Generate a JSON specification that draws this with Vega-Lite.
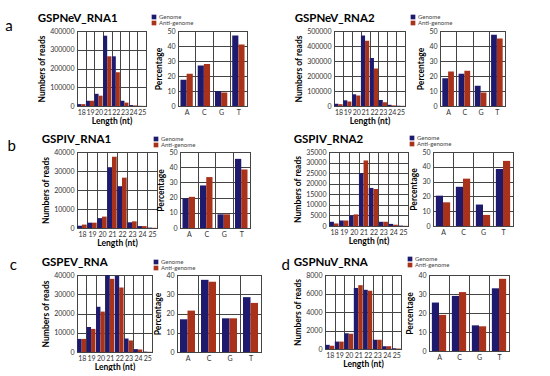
{
  "$schema": "https://vega.github.io/schema/vega-lite/v6.json",
  "padding": {"left": 5, "top": 12, "right": 0, "bottom": 0},
  "background": "white",
  "datasets": {
    "a1": [
      {"len": "18", "type": "Genome", "reads": 10000}, {"len": "18", "type": "Anti-genome", "reads": 10000},
      {"len": "19", "type": "Genome", "reads": 28000}, {"len": "19", "type": "Anti-genome", "reads": 28000},
      {"len": "20", "type": "Genome", "reads": 65000}, {"len": "20", "type": "Anti-genome", "reads": 55000},
      {"len": "21", "type": "Genome", "reads": 375000}, {"len": "21", "type": "Anti-genome", "reads": 265000},
      {"len": "22", "type": "Genome", "reads": 265000}, {"len": "22", "type": "Anti-genome", "reads": 180000},
      {"len": "23", "type": "Genome", "reads": 28000}, {"len": "23", "type": "Anti-genome", "reads": 18000},
      {"len": "24", "type": "Genome", "reads": 5000}, {"len": "24", "type": "Anti-genome", "reads": 3000},
      {"len": "25", "type": "Genome", "reads": 1000}, {"len": "25", "type": "Anti-genome", "reads": 500}
    ],
    "a1p": [
      {"base": "A", "type": "Genome", "pct": 17.5}, {"base": "A", "type": "Anti-genome", "pct": 21.5},
      {"base": "C", "type": "Genome", "pct": 27}, {"base": "C", "type": "Anti-genome", "pct": 28},
      {"base": "G", "type": "Genome", "pct": 10}, {"base": "G", "type": "Anti-genome", "pct": 9},
      {"base": "T", "type": "Genome", "pct": 47}, {"base": "T", "type": "Anti-genome", "pct": 41}
    ],
    "a2": [
      {"len": "18", "type": "Genome", "reads": 15000}, {"len": "18", "type": "Anti-genome", "reads": 12000},
      {"len": "19", "type": "Genome", "reads": 38000}, {"len": "19", "type": "Anti-genome", "reads": 30000},
      {"len": "20", "type": "Genome", "reads": 78000}, {"len": "20", "type": "Anti-genome", "reads": 70000},
      {"len": "21", "type": "Genome", "reads": 470000}, {"len": "21", "type": "Anti-genome", "reads": 435000},
      {"len": "22", "type": "Genome", "reads": 320000}, {"len": "22", "type": "Anti-genome", "reads": 250000},
      {"len": "23", "type": "Genome", "reads": 40000}, {"len": "23", "type": "Anti-genome", "reads": 25000},
      {"len": "24", "type": "Genome", "reads": 8000}, {"len": "24", "type": "Anti-genome", "reads": 4000},
      {"len": "25", "type": "Genome", "reads": 2000}, {"len": "25", "type": "Anti-genome", "reads": 1000}
    ],
    "a2p": [
      {"base": "A", "type": "Genome", "pct": 18.5}, {"base": "A", "type": "Anti-genome", "pct": 23},
      {"base": "C", "type": "Genome", "pct": 21.5}, {"base": "C", "type": "Anti-genome", "pct": 23.5},
      {"base": "G", "type": "Genome", "pct": 13.5}, {"base": "G", "type": "Anti-genome", "pct": 9},
      {"base": "T", "type": "Genome", "pct": 47.5}, {"base": "T", "type": "Anti-genome", "pct": 45}
    ],
    "b1": [
      {"len": "18", "type": "Genome", "reads": 1200}, {"len": "18", "type": "Anti-genome", "reads": 1800},
      {"len": "19", "type": "Genome", "reads": 2800}, {"len": "19", "type": "Anti-genome", "reads": 2800},
      {"len": "20", "type": "Genome", "reads": 5200}, {"len": "20", "type": "Anti-genome", "reads": 6000},
      {"len": "21", "type": "Genome", "reads": 32000}, {"len": "21", "type": "Anti-genome", "reads": 37500},
      {"len": "22", "type": "Genome", "reads": 22000}, {"len": "22", "type": "Anti-genome", "reads": 26500},
      {"len": "23", "type": "Genome", "reads": 3000}, {"len": "23", "type": "Anti-genome", "reads": 3500},
      {"len": "24", "type": "Genome", "reads": 1000}, {"len": "24", "type": "Anti-genome", "reads": 1000},
      {"len": "25", "type": "Genome", "reads": 200}, {"len": "25", "type": "Anti-genome", "reads": 100}
    ],
    "b1p": [
      {"base": "A", "type": "Genome", "pct": 19.5}, {"base": "A", "type": "Anti-genome", "pct": 20.5},
      {"base": "C", "type": "Genome", "pct": 28}, {"base": "C", "type": "Anti-genome", "pct": 33.5},
      {"base": "G", "type": "Genome", "pct": 9}, {"base": "G", "type": "Anti-genome", "pct": 9},
      {"base": "T", "type": "Genome", "pct": 45.5}, {"base": "T", "type": "Anti-genome", "pct": 38.5}
    ],
    "b2": [
      {"len": "18", "type": "Genome", "reads": 2000}, {"len": "18", "type": "Anti-genome", "reads": 1200},
      {"len": "19", "type": "Genome", "reads": 2600}, {"len": "19", "type": "Anti-genome", "reads": 2600},
      {"len": "20", "type": "Genome", "reads": 5000}, {"len": "20", "type": "Anti-genome", "reads": 5500},
      {"len": "21", "type": "Genome", "reads": 25000}, {"len": "21", "type": "Anti-genome", "reads": 31000},
      {"len": "22", "type": "Genome", "reads": 18000}, {"len": "22", "type": "Anti-genome", "reads": 17500},
      {"len": "23", "type": "Genome", "reads": 2000}, {"len": "23", "type": "Anti-genome", "reads": 2000},
      {"len": "24", "type": "Genome", "reads": 1000}, {"len": "24", "type": "Anti-genome", "reads": 600},
      {"len": "25", "type": "Genome", "reads": 200}, {"len": "25", "type": "Anti-genome", "reads": 100}
    ],
    "b2p": [
      {"base": "A", "type": "Genome", "pct": 20.5}, {"base": "A", "type": "Anti-genome", "pct": 16},
      {"base": "C", "type": "Genome", "pct": 26.5}, {"base": "C", "type": "Anti-genome", "pct": 32},
      {"base": "G", "type": "Genome", "pct": 14.5}, {"base": "G", "type": "Anti-genome", "pct": 7.5},
      {"base": "T", "type": "Genome", "pct": 38.5}, {"base": "T", "type": "Anti-genome", "pct": 44}
    ],
    "c": [
      {"len": "18", "type": "Genome", "reads": 6800}, {"len": "18", "type": "Anti-genome", "reads": 6800},
      {"len": "19", "type": "Genome", "reads": 13000}, {"len": "19", "type": "Anti-genome", "reads": 12000},
      {"len": "20", "type": "Genome", "reads": 23500}, {"len": "20", "type": "Anti-genome", "reads": 21000},
      {"len": "21", "type": "Genome", "reads": 40000}, {"len": "21", "type": "Anti-genome", "reads": 38000},
      {"len": "22", "type": "Genome", "reads": 39500}, {"len": "22", "type": "Anti-genome", "reads": 33500},
      {"len": "23", "type": "Genome", "reads": 7000}, {"len": "23", "type": "Anti-genome", "reads": 6000},
      {"len": "24", "type": "Genome", "reads": 1500}, {"len": "24", "type": "Anti-genome", "reads": 1300},
      {"len": "25", "type": "Genome", "reads": 200}, {"len": "25", "type": "Anti-genome", "reads": 100}
    ],
    "cp": [
      {"base": "A", "type": "Genome", "pct": 17}, {"base": "A", "type": "Anti-genome", "pct": 21.5},
      {"base": "C", "type": "Genome", "pct": 37.5}, {"base": "C", "type": "Anti-genome", "pct": 36.5},
      {"base": "G", "type": "Genome", "pct": 17.5}, {"base": "G", "type": "Anti-genome", "pct": 17.5},
      {"base": "T", "type": "Genome", "pct": 28.5}, {"base": "T", "type": "Anti-genome", "pct": 25.5}
    ],
    "d": [
      {"len": "18", "type": "Genome", "reads": 450}, {"len": "18", "type": "Anti-genome", "reads": 350},
      {"len": "19", "type": "Genome", "reads": 800}, {"len": "19", "type": "Anti-genome", "reads": 800},
      {"len": "20", "type": "Genome", "reads": 1700}, {"len": "20", "type": "Anti-genome", "reads": 1650},
      {"len": "21", "type": "Genome", "reads": 6600}, {"len": "21", "type": "Anti-genome", "reads": 6900},
      {"len": "22", "type": "Genome", "reads": 6400}, {"len": "22", "type": "Anti-genome", "reads": 6300},
      {"len": "23", "type": "Genome", "reads": 1000}, {"len": "23", "type": "Anti-genome", "reads": 1000},
      {"len": "24", "type": "Genome", "reads": 300}, {"len": "24", "type": "Anti-genome", "reads": 300},
      {"len": "25", "type": "Genome", "reads": 80}, {"len": "25", "type": "Anti-genome", "reads": 50}
    ],
    "dp": [
      {"base": "A", "type": "Genome", "pct": 25.5}, {"base": "A", "type": "Anti-genome", "pct": 19},
      {"base": "C", "type": "Genome", "pct": 29}, {"base": "C", "type": "Anti-genome", "pct": 31},
      {"base": "G", "type": "Genome", "pct": 13.5}, {"base": "G", "type": "Anti-genome", "pct": 13},
      {"base": "T", "type": "Genome", "pct": 33}, {"base": "T", "type": "Anti-genome", "pct": 38}
    ]
  },
  "spacing": 8,
  "resolve": {"scale": {"xOffset": "independent"}, "legend": {"color": "independent"}},
  "vconcat": [
    {
      "spacing": 46,
      "resolve": {"scale": {"xOffset": "independent"}, "legend": {"color": "independent"}},
      "hconcat": [
        {
          "bounds": "flush", "spacing": 32,
          "title": {"text": "a", "orient": "left", "anchor": "end", "angle": 0, "fontSize": 15, "fontWeight": "normal", "offset": 17, "dy": 7, "baseline": "top", "align": "right"},
          "resolve": {"scale": {"xOffset": "independent"}, "legend": {"color": "independent"}},
          "hconcat": [
            {
              "data": {"name": "a1"}, "title": "GSPNeV_RNA1", "width": 69, "height": 75, "mark": "bar",
              "encoding": {
                "x": {"field": "len", "type": "nominal", "title": "Length (nt)", "scale": {"paddingInner": 0, "paddingOuter": 0}, "axis": {"labelAngle": 0, "tickBand": "extent", "grid": true, "labelOverlap": false}},
                "xOffset": {"field": "type", "sort": ["Genome", "Anti-genome"], "scale": {"paddingInner": 0, "paddingOuter": 0.07}},
                "y": {"field": "reads", "type": "quantitative", "title": "Numbers of reads", "scale": {"domain": [0, 400000], "nice": false}, "axis": {"values": [0, 100000, 200000, 300000, 400000], "format": "d"}},
                "color": {"field": "type", "type": "nominal", "scale": {"domain": ["Genome", "Anti-genome"], "range": ["#1e1b6e", "#a8321a"]}, "legend": null}
              }
            },
            {
              "data": {"name": "a1p"}, "width": 69, "height": 75, "mark": "bar",
              "encoding": {
                "x": {"field": "base", "type": "nominal", "title": null, "scale": {"paddingInner": 0, "paddingOuter": 0}, "axis": {"labelAngle": 0, "tickBand": "extent", "grid": true}},
                "xOffset": {"field": "type", "sort": ["Genome", "Anti-genome"], "scale": {"paddingInner": 0, "paddingOuter": 0.4}},
                "y": {"field": "pct", "type": "quantitative", "title": "Percentage", "scale": {"domain": [0, 50], "nice": false}, "axis": {"values": [0, 10, 20, 30, 40, 50]}},
                "color": {"field": "type", "type": "nominal", "scale": {"domain": ["Genome", "Anti-genome"], "range": ["#1e1b6e", "#a8321a"]}, "legend": {"orient": "none", "legendX": -27, "legendY": -17}}
              }
            }
          ]
        },
        {
          "bounds": "flush", "spacing": 35,
          "resolve": {"scale": {"xOffset": "independent"}, "legend": {"color": "independent"}},
          "hconcat": [
            {
              "data": {"name": "a2"}, "title": "GSPNeV_RNA2", "width": 71, "height": 75, "mark": "bar",
              "encoding": {
                "x": {"field": "len", "type": "nominal", "title": "Length (nt)", "scale": {"paddingInner": 0, "paddingOuter": 0}, "axis": {"labelAngle": 0, "tickBand": "extent", "grid": true, "labelOverlap": false}},
                "xOffset": {"field": "type", "sort": ["Genome", "Anti-genome"], "scale": {"paddingInner": 0, "paddingOuter": 0.07}},
                "y": {"field": "reads", "type": "quantitative", "title": "Numbers of reads", "scale": {"domain": [0, 500000], "nice": false}, "axis": {"values": [0, 100000, 200000, 300000, 400000, 500000], "format": "d"}},
                "color": {"field": "type", "type": "nominal", "scale": {"domain": ["Genome", "Anti-genome"], "range": ["#1e1b6e", "#a8321a"]}, "legend": null}
              }
            },
            {
              "data": {"name": "a2p"}, "width": 65, "height": 75, "mark": "bar",
              "encoding": {
                "x": {"field": "base", "type": "nominal", "title": null, "scale": {"paddingInner": 0, "paddingOuter": 0}, "axis": {"labelAngle": 0, "tickBand": "extent", "grid": true}},
                "xOffset": {"field": "type", "sort": ["Genome", "Anti-genome"], "scale": {"paddingInner": 0, "paddingOuter": 0.4}},
                "y": {"field": "pct", "type": "quantitative", "title": "Percentage", "scale": {"domain": [0, 50], "nice": false}, "axis": {"values": [0, 10, 20, 30, 40, 50]}},
                "color": {"field": "type", "type": "nominal", "scale": {"domain": ["Genome", "Anti-genome"], "range": ["#1e1b6e", "#a8321a"]}, "legend": {"orient": "none", "legendX": -30, "legendY": -17}}
              }
            }
          ]
        }
      ]
    },
    {
      "spacing": 8,
      "resolve": {"scale": {"xOffset": "independent"}, "legend": {"color": "independent"}},
      "vconcat": [
        {
          "spacing": 42,
          "resolve": {"scale": {"xOffset": "independent"}, "legend": {"color": "independent"}},
          "hconcat": [
            {
              "bounds": "flush", "spacing": 23,
              "title": {"text": "b", "orient": "left", "anchor": "end", "angle": 0, "fontSize": 15, "fontWeight": "normal", "offset": 17, "dy": 6, "baseline": "top", "align": "right"},
              "resolve": {"scale": {"xOffset": "independent"}, "legend": {"color": "independent"}},
              "hconcat": [
                {
                  "data": {"name": "b1"}, "title": "GSPIV_RNA1", "width": 80, "height": 76, "mark": "bar",
                  "encoding": {
                    "x": {"field": "len", "type": "nominal", "title": "Length (nt)", "scale": {"paddingInner": 0, "paddingOuter": 0}, "axis": {"labelAngle": 0, "tickBand": "extent", "grid": true, "labelOverlap": false}},
                    "xOffset": {"field": "type", "sort": ["Genome", "Anti-genome"], "scale": {"paddingInner": 0, "paddingOuter": 0.07}},
                    "y": {"field": "reads", "type": "quantitative", "title": "Numbers of reads", "scale": {"domain": [0, 40000], "nice": false}, "axis": {"values": [0, 10000, 20000, 30000, 40000], "format": "d"}},
                    "color": {"field": "type", "type": "nominal", "scale": {"domain": ["Genome", "Anti-genome"], "range": ["#1e1b6e", "#a8321a"]}, "legend": null}
                  }
                },
                {
                  "data": {"name": "b1p"}, "width": 70, "height": 76, "mark": "bar",
                  "encoding": {
                    "x": {"field": "base", "type": "nominal", "title": null, "scale": {"paddingInner": 0, "paddingOuter": 0}, "axis": {"labelAngle": 0, "tickBand": "extent", "grid": true}},
                    "xOffset": {"field": "type", "sort": ["Genome", "Anti-genome"], "scale": {"paddingInner": 0, "paddingOuter": 0.4}},
                    "y": {"field": "pct", "type": "quantitative", "title": "Percentage", "scale": {"domain": [0, 50], "nice": false}, "axis": {"values": [0, 10, 20, 30, 40, 50]}},
                    "color": {"field": "type", "type": "nominal", "scale": {"domain": ["Genome", "Anti-genome"], "range": ["#1e1b6e", "#a8321a"]}, "legend": {"orient": "none", "legendX": -27, "legendY": -16}}
                  }
                }
              ]
            },
            {
              "bounds": "flush", "spacing": 25,
              "resolve": {"scale": {"xOffset": "independent"}, "legend": {"color": "independent"}},
              "hconcat": [
                {
                  "data": {"name": "b2"}, "title": "GSPIV_RNA2", "width": 79, "height": 74, "mark": "bar",
                  "encoding": {
                    "x": {"field": "len", "type": "nominal", "title": "Length (nt)", "scale": {"paddingInner": 0, "paddingOuter": 0}, "axis": {"labelAngle": 0, "tickBand": "extent", "grid": true, "labelOverlap": false}},
                    "xOffset": {"field": "type", "sort": ["Genome", "Anti-genome"], "scale": {"paddingInner": 0, "paddingOuter": 0.07}},
                    "y": {"field": "reads", "type": "quantitative", "title": "Numbers of reads", "scale": {"domain": [0, 35000], "nice": false}, "axis": {"values": [0, 5000, 10000, 15000, 20000, 25000, 30000, 35000], "format": "d"}},
                    "color": {"field": "type", "type": "nominal", "scale": {"domain": ["Genome", "Anti-genome"], "range": ["#1e1b6e", "#a8321a"]}, "legend": null}
                  }
                },
                {
                  "data": {"name": "b2p"}, "width": 80, "height": 74, "mark": "bar",
                  "encoding": {
                    "x": {"field": "base", "type": "nominal", "title": null, "scale": {"paddingInner": 0, "paddingOuter": 0}, "axis": {"labelAngle": 0, "tickBand": "extent", "grid": true}},
                    "xOffset": {"field": "type", "sort": ["Genome", "Anti-genome"], "scale": {"paddingInner": 0, "paddingOuter": 0.4}},
                    "y": {"field": "pct", "type": "quantitative", "title": "Percentage", "scale": {"domain": [0, 50], "nice": false}, "axis": {"values": [0, 10, 20, 30, 40, 50]}},
                    "color": {"field": "type", "type": "nominal", "scale": {"domain": ["Genome", "Anti-genome"], "range": ["#1e1b6e", "#a8321a"]}, "legend": {"orient": "none", "legendX": -24, "legendY": -17}}
                  }
                }
              ]
            }
          ]
        },
        {
          "spacing": 19,
          "resolve": {"scale": {"xOffset": "independent"}, "legend": {"color": "independent"}},
          "hconcat": [
            {
              "bounds": "flush", "spacing": 25,
              "title": {"text": "c", "orient": "left", "anchor": "end", "angle": 0, "fontSize": 15, "fontWeight": "normal", "offset": 17, "dy": 2, "baseline": "top", "align": "right"},
              "resolve": {"scale": {"xOffset": "independent"}, "legend": {"color": "independent"}},
              "hconcat": [
                {
                  "data": {"name": "c"}, "title": "GSPEV_RNA", "width": 75, "height": 77, "mark": "bar",
                  "encoding": {
                    "x": {"field": "len", "type": "nominal", "title": "Length (nt)", "scale": {"paddingInner": 0, "paddingOuter": 0}, "axis": {"labelAngle": 0, "tickBand": "extent", "grid": true, "labelOverlap": false}},
                    "xOffset": {"field": "type", "sort": ["Genome", "Anti-genome"], "scale": {"paddingInner": 0, "paddingOuter": 0.07}},
                    "y": {"field": "reads", "type": "quantitative", "title": "Numbers of reads", "scale": {"domain": [0, 40000], "nice": false}, "axis": {"values": [0, 10000, 20000, 30000, 40000], "format": "d"}},
                    "color": {"field": "type", "type": "nominal", "scale": {"domain": ["Genome", "Anti-genome"], "range": ["#1e1b6e", "#a8321a"]}, "legend": null}
                  }
                },
                {
                  "data": {"name": "cp"}, "width": 84, "height": 77, "mark": "bar",
                  "encoding": {
                    "x": {"field": "base", "type": "nominal", "title": null, "scale": {"paddingInner": 0, "paddingOuter": 0}, "axis": {"labelAngle": 0, "tickBand": "extent", "grid": true}},
                    "xOffset": {"field": "type", "sort": ["Genome", "Anti-genome"], "scale": {"paddingInner": 0, "paddingOuter": 0.4}},
                    "y": {"field": "pct", "type": "quantitative", "title": "Percentage", "scale": {"domain": [0, 40], "nice": false}, "axis": {"values": [0, 10, 20, 30, 40]}},
                    "color": {"field": "type", "type": "nominal", "scale": {"domain": ["Genome", "Anti-genome"], "range": ["#1e1b6e", "#a8321a"]}, "legend": {"orient": "none", "legendX": -24, "legendY": -16}}
                  }
                }
              ]
            },
            {
              "bounds": "flush", "spacing": 28,
              "title": {"text": "d", "orient": "left", "anchor": "end", "angle": 0, "fontSize": 15, "fontWeight": "normal", "offset": -5, "dy": 2, "baseline": "top", "align": "right"},
              "resolve": {"scale": {"xOffset": "independent"}, "legend": {"color": "independent"}},
              "hconcat": [
                {
                  "data": {"name": "d"}, "title": "GSPNuV_RNA", "width": 76, "height": 74, "mark": "bar",
                  "encoding": {
                    "x": {"field": "len", "type": "nominal", "title": "Length (nt)", "scale": {"paddingInner": 0, "paddingOuter": 0}, "axis": {"labelAngle": 0, "tickBand": "extent", "grid": true, "labelOverlap": false}},
                    "xOffset": {"field": "type", "sort": ["Genome", "Anti-genome"], "scale": {"paddingInner": 0, "paddingOuter": 0.07}},
                    "y": {"field": "reads", "type": "quantitative", "title": "Numbers of reads", "scale": {"domain": [0, 8000], "nice": false}, "axis": {"values": [0, 2000, 4000, 6000, 8000], "format": "d"}},
                    "color": {"field": "type", "type": "nominal", "scale": {"domain": ["Genome", "Anti-genome"], "range": ["#1e1b6e", "#a8321a"]}, "legend": null}
                  }
                },
                {
                  "data": {"name": "dp"}, "width": 80, "height": 76, "mark": "bar",
                  "encoding": {
                    "x": {"field": "base", "type": "nominal", "title": null, "scale": {"paddingInner": 0, "paddingOuter": 0}, "axis": {"labelAngle": 0, "tickBand": "extent", "grid": true}},
                    "xOffset": {"field": "type", "sort": ["Genome", "Anti-genome"], "scale": {"paddingInner": 0, "paddingOuter": 0.4}},
                    "y": {"field": "pct", "type": "quantitative", "title": "Percentage", "scale": {"domain": [0, 40], "nice": false}, "axis": {"values": [0, 10, 20, 30, 40]}},
                    "color": {"field": "type", "type": "nominal", "scale": {"domain": ["Genome", "Anti-genome"], "range": ["#1e1b6e", "#a8321a"]}, "legend": {"orient": "none", "legendX": -22, "legendY": -19}}
                  }
                }
              ]
            }
          ]
        }
      ]
    }
  ],
  "config": {
    "font": "Lato",
    "view": {"stroke": "#000000", "strokeWidth": 1},
    "axis": {"labelFontSize": 7, "labelColor": "#333333", "titleFontSize": 8.5, "titleFontWeight": "bold", "titleColor": "#000000", "gridColor": "#444444", "gridWidth": 1, "gridOpacity": 1, "domain": false, "ticks": false, "labelPadding": 3, "titlePadding": 3},
    "axisX": {"labelPadding": 2, "titlePadding": 1},
    "title": {"fontSize": 11.5, "fontWeight": "bold", "anchor": "start", "color": "#000000", "offset": 3},
    "legend": {"title": null, "direction": "vertical", "symbolType": "square", "symbolSize": 22, "symbolStrokeWidth": 0, "labelFontSize": 6, "labelColor": "#444444", "rowPadding": 0, "labelOffset": 2, "padding": 0}
  }
}
